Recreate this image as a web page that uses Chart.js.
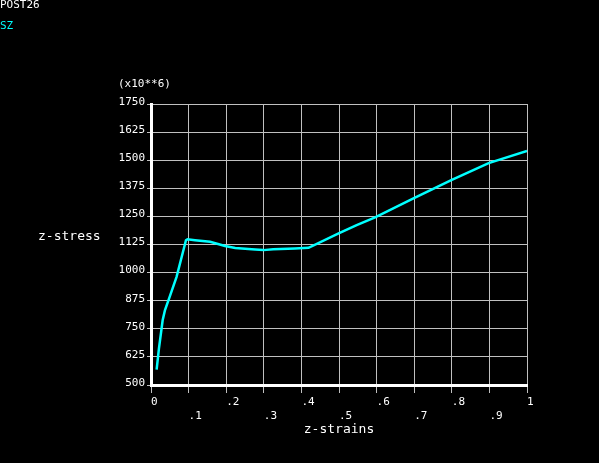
<!DOCTYPE html>
<html>
<head>
<meta charset="utf-8">
<script src="https://cdn.jsdelivr.net/npm/chart.js@4.4.1/dist/chart.umd.min.js"></script>
<style>
  html, body { margin: 0; padding: 0; background: #000; }
  #wrap { position: relative; width: 599px; height: 463px; }
  canvas { display: block; }
</style>
</head>
<body>
<div id="wrap"><canvas id="c" width="599" height="463"></canvas></div>
<script>
// Data
const strainValues = [0.015, 0.021, 0.031, 0.037, 0.051, 0.068, 0.093, 0.097, 0.117, 0.157, 0.197, 0.224, 0.277, 0.299, 0.325, 0.383, 0.419, 0.499, 0.547, 0.596, 0.698, 0.800, 0.898, 1.0];
const stressValues = [568, 661, 788, 832, 899, 981, 1144, 1148, 1144, 1137, 1118, 1109, 1103, 1100, 1104, 1107, 1110, 1174, 1211, 1246, 1330, 1412, 1487, 1541];
const yTickValues = [500, 625, 750, 875, 1000, 1125, 1250, 1375, 1500, 1625, 1750];
const xTickLabels = ['0', '.1', '.2', '.3', '.4', '.5', '.6', '.7', '.8', '.9', '1'];
const pageTitle = 'POST26';
const seriesName = 'SZ';
const yMultiplier = '(x10**6)';
const yTitle = 'z-stress';
const xTitle = 'z-strains';

const MONO = '"DejaVu Sans Mono", "Liberation Mono", monospace';

const textPlugin = {
  id: 'texts',
  afterDraw(chart) {
    const ctx = chart.ctx;
    ctx.save();
    ctx.textBaseline = 'middle';
    ctx.textAlign = 'left';
    ctx.font = '11px ' + MONO;
    ctx.fillStyle = '#ffffff';
    ctx.fillText(pageTitle, 0, 5);
    ctx.fillStyle = '#00ffff';
    ctx.fillText(seriesName, 0, 26);
    ctx.fillStyle = '#ffffff';
    ctx.fillText(yMultiplier, 118, 84);
    ctx.font = '13px ' + MONO;
    ctx.fillText(yTitle, 38, 237);
    ctx.textAlign = 'center';
    const xs = chart.scales.x;
    ctx.fillText(xTitle, (xs.left + xs.right) / 2, 430);
    ctx.restore();
  }
};

new Chart(document.getElementById('c'), {
  type: 'line',
  data: {
    datasets: [{
      label: seriesName,
      data: strainValues.map((x, i) => ({ x: x, y: stressValues[i] })),
      borderColor: '#00ffff',
      backgroundColor: '#00ffff',
      borderWidth: 2.5,
      pointRadius: 0,
      tension: 0,
      fill: false
    }]
  },
  options: {
    responsive: false,
    animation: false,
    events: [],
    layout: { padding: { left: 0, top: 104, right: 72, bottom: 0 } },
    plugins: { legend: { display: false }, tooltip: { enabled: false }, title: { display: false } },
    scales: {
      x: {
        type: 'linear',
        min: 0, max: 1,
        afterFit(s) { s.height = 78; },
        afterBuildTicks(s) { s.ticks = xTickLabels.map((_, i) => ({ value: i / 10 })); },
        border: { display: true, color: '#ffffff', width: 3 },
        grid: { color: '#c0c0c0', lineWidth: 1, tickLength: 8, drawTicks: true },
        ticks: {
          color: '#ffffff',
          font: { family: MONO, size: 11, lineHeight: 1.27 },
          align: 'start',
          padding: 2,
          maxRotation: 0,
          autoSkip: false,
          callback(v, i) { const t = xTickLabels[i]; return i % 2 === 1 ? ['', t] : t; }
        }
      },
      y: {
        type: 'linear',
        min: 500, max: 1750,
        afterFit(s) { s.width = 151; },
        afterBuildTicks(s) { s.ticks = yTickValues.map(v => ({ value: v })); },
        border: { display: true, color: '#ffffff', width: 3 },
        grid: { color: '#c0c0c0', lineWidth: 1, tickLength: 4, drawTicks: true },
        ticks: {
          color: '#ffffff',
          font: { family: MONO, size: 11 },
          padding: 2,
          labelOffset: -2,
          autoSkip: false,
          callback(v) { return String(v); }
        }
      }
    }
  },
  plugins: [textPlugin]
});
</script>
</body>
</html>
